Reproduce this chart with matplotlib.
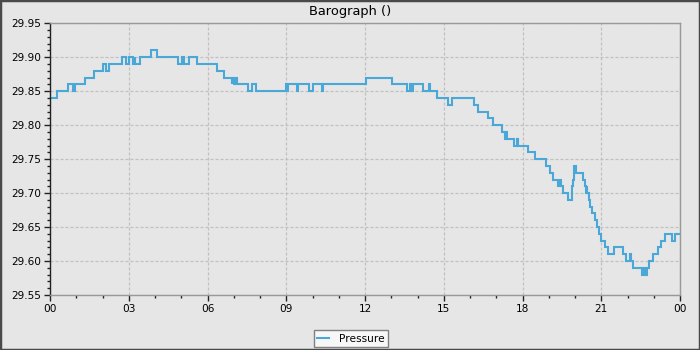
import matplotlib
matplotlib.use("Agg")
import matplotlib.pyplot as plt
from matplotlib.ticker import MultipleLocator, FixedLocator
from matplotlib.patches import Rectangle

# Data: step change points (hour of day, pressure inHg)
hours = [0.00, 0.27, 0.67, 0.87, 0.96, 1.33, 1.68, 2.03, 2.13, 2.26,
         2.73, 2.88, 3.00, 3.17, 3.22, 3.25, 3.43, 3.85, 4.07, 4.86,
         5.03, 5.10, 5.30, 5.59, 6.37, 6.63, 6.92, 6.95, 7.02, 7.08,
         7.13, 7.56, 7.68, 7.85, 8.99, 9.04, 9.07, 9.40, 9.44, 9.88,
         10.00, 10.35, 10.40, 12.03, 13.02, 13.59, 13.70, 13.74, 13.84, 14.20,
         14.45, 14.49, 14.75, 15.17, 15.30, 16.15, 16.32, 16.67, 16.86, 17.20,
         17.33, 17.36, 17.40, 17.69, 17.78, 17.82, 18.22, 18.48, 18.88, 19.05,
         19.17, 19.36, 19.43, 19.47, 19.55, 19.72, 19.87, 19.90, 19.93, 19.98,
         20.05, 20.30, 20.38, 20.42, 20.44, 20.47, 20.52, 20.58, 20.66, 20.76,
         20.84, 20.92, 21.00, 21.14, 21.27, 21.49, 21.84, 21.93, 22.08, 22.15,
         22.22, 22.54, 22.62, 22.68, 22.76, 22.83, 22.96, 23.17, 23.27, 23.43,
         23.68, 23.81, 24.00]
pressure = [29.84, 29.85, 29.86, 29.85, 29.86, 29.87, 29.88, 29.89, 29.88, 29.89,
            29.90, 29.89, 29.90, 29.89, 29.90, 29.89, 29.90, 29.91, 29.90, 29.89,
            29.90, 29.89, 29.90, 29.89, 29.88, 29.87, 29.86, 29.87, 29.86, 29.87,
            29.86, 29.85, 29.86, 29.85, 29.86, 29.85, 29.86, 29.85, 29.86, 29.85,
            29.86, 29.85, 29.86, 29.87, 29.86, 29.85, 29.86, 29.85, 29.86, 29.85,
            29.86, 29.85, 29.84, 29.83, 29.84, 29.83, 29.82, 29.81, 29.80, 29.79,
            29.78, 29.79, 29.78, 29.77, 29.78, 29.77, 29.76, 29.75, 29.74, 29.73,
            29.72, 29.71, 29.72, 29.71, 29.70, 29.69, 29.70, 29.71, 29.72, 29.74,
            29.73, 29.72, 29.71, 29.70, 29.71, 29.70, 29.69, 29.68, 29.67, 29.66,
            29.65, 29.64, 29.63, 29.62, 29.61, 29.62, 29.61, 29.60, 29.61, 29.60,
            29.59, 29.58, 29.59, 29.58, 29.59, 29.60, 29.61, 29.62, 29.63, 29.64,
            29.63, 29.64, 29.64]
xtick_pos = [0, 3, 6, 9, 12, 15, 18, 21, 24]
xtick_labels = ["00", "03", "06", "09", "12", "15", "18", "21", "00"]
series_name = "Pressure"
title = "Barograph ()"

bg = "#e6e6e6"
fig = plt.figure(figsize=(7, 3.5), dpi=100, facecolor=bg)
ax = fig.add_axes([50/700, 1-295/350, 630/700, (295-23.3)/350])
ax.set_facecolor(bg)

ax.plot(hours, pressure, drawstyle="steps-post", color="#4aa8d8", lw=1.5,
        label=series_name, solid_joinstyle="miter")

ax.set_xlim(0, 24)
ax.set_ylim(29.55, 29.95)
ax.xaxis.set_major_locator(FixedLocator(xtick_pos))
ax.set_xticklabels(xtick_labels)
ax.xaxis.set_minor_locator(MultipleLocator(1))
ax.yaxis.set_major_locator(MultipleLocator(0.05))
ax.yaxis.set_minor_locator(MultipleLocator(0.01))
ax.yaxis.set_major_formatter(matplotlib.ticker.FormatStrFormatter("%.2f"))

ax.tick_params(which="major", direction="out", length=4, width=1, labelsize=7.6,
               color="#222222", labelcolor="#000000", pad=2.5)
ax.tick_params(which="minor", direction="out", length=2, width=1, color="#222222")

ax.grid(True, which="major", color="#c0c0c0", lw=0.9, linestyle=(0, (2.4, 1.6)))
ax.set_axisbelow(True)

for s in ["top", "right", "bottom"]:
    ax.spines[s].set_color("#999999")
    ax.spines[s].set_linewidth(1)
ax.spines["left"].set_color("#222222")
ax.spines["left"].set_linewidth(1)

fig.text(0.5, 1-11/350, title, ha="center", va="center", fontsize=9.4, color="#000000")

leg = fig.legend(loc="center", bbox_to_anchor=(351/700, 1-338.5/350), fontsize=7.7,
                 frameon=True, fancybox=False, handlelength=1.1, handletextpad=0.9,
                 borderpad=0.3, borderaxespad=0)
leg.get_frame().set_facecolor("#f7f7f7")
leg.get_frame().set_edgecolor("#808080")
leg.get_frame().set_linewidth(1)
leg.get_frame().set_alpha(1)

fig.patches.append(Rectangle((0, 0), 1, 1, transform=fig.transFigure, fill=False,
                             edgecolor="#4a4a4a", lw=2.5, zorder=10))

fig.savefig("out.png", dpi=100, facecolor=bg)
